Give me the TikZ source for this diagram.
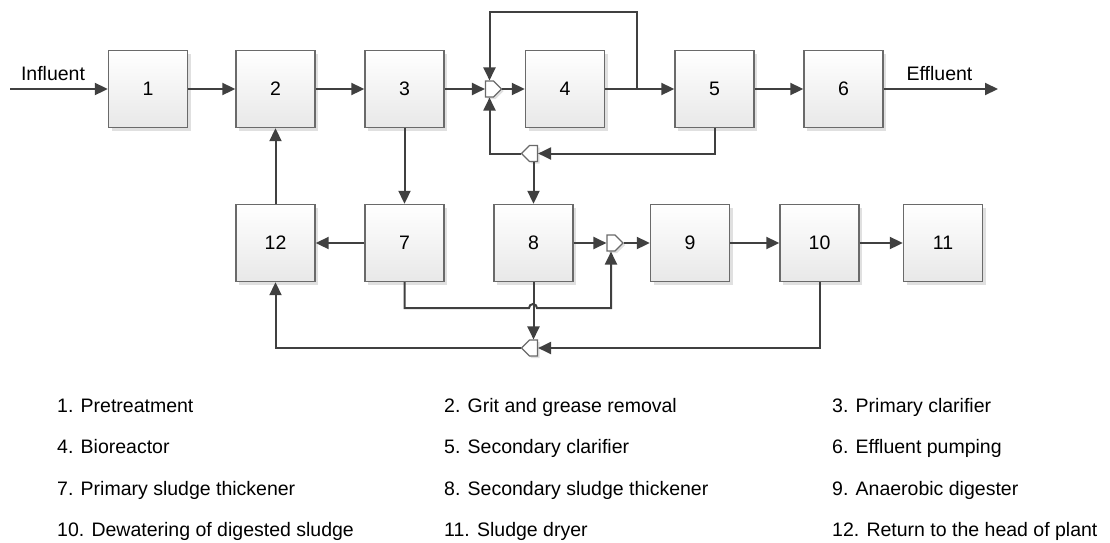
\documentclass[tikz,border=0pt]{standalone}
\usepackage{fontspec}
\setmainfont{Liberation Sans}
\usetikzlibrary{arrows.meta,shapes.symbols,shadows,calc}
\definecolor{linec}{HTML}{404040}
\definecolor{boxborder}{HTML}{6A6A6A}
\begin{document}
\begin{tikzpicture}[x=1pt,y=-1pt,
  box/.style={draw=boxborder, line width=1.4pt, minimum width=79pt, minimum height=77pt,
    inner sep=0pt, top color=white, bottom color=black!9,
    drop shadow={shadow xshift=3pt, shadow yshift=-3pt, fill=black!12, opacity=1},
    font=\fontsize{19.5}{23}\selectfont},
  joint/.style={shape=signal, draw=boxborder, line width=1.1pt, fill=white,
    minimum width=16pt, minimum height=16pt, inner sep=0pt, signal pointer angle=90,
    drop shadow={shadow xshift=2pt, shadow yshift=-2pt, fill=black!12, opacity=1}},
  flow/.style={draw=linec, line width=2pt, -{Triangle[length=13pt,width=12pt]}},
  pipe/.style={draw=linec, line width=2pt},
  txt/.style={font=\fontsize{19.5}{23}\selectfont, inner sep=0pt},
  lbl/.style={txt, anchor=base west}
]
\useasboundingbox (0,0) rectangle (1110,542);

% boxes, top row
\node[box] (b1) at (148,89) {1};
\node[box] (b2) at (275.5,89) {2};
\node[box] (b3) at (404.5,89) {3};
\node[box] (b4) at (565,89) {4};
\node[box] (b5) at (714.5,89) {5};
\node[box] (b6) at (843.5,89) {6};
% boxes, bottom row
\node[box] (b12) at (275.5,243) {12};
\node[box] (b7) at (404.5,243) {7};
\node[box] (b8) at (533.5,243) {8};
\node[box] (b9) at (690,243) {9};
\node[box] (b10) at (819.5,243) {10};
\node[box] (b11) at (943,243) {11};

% junctions
\node[joint, signal to=east] (m1) at (489.5,89) {};
\node[joint, signal to=west] (s1) at (533.5,153.5) {};
\node[joint, signal to=east] (m2) at (611,243) {};
\node[joint, signal to=west] (s2) at (533.5,348) {};

% free ends
\coordinate (in) at (10,89);
\coordinate (out) at (998,89);
\coordinate (br) at (637,89);
\coordinate (fbtop) at (637,12);
\coordinate (hop) at (529,308);

\node[txt, anchor=base] (tin) at (53,80) {Influent};
\node[txt, anchor=base] (tout) at (939.5,80) {Effluent};

% main line
\draw[flow] (in) -- (b1.west);
\draw[flow] (b1.east) -- (b2.west);
\draw[flow] (b2.east) -- (b3.west);
\draw[flow] (b3.east) -- (m1.west);
\draw[flow] (m1.east) -- (b4.west);
\draw[pipe] (b4.east) -- (br);
\draw[flow] (br) -- (b5.west);
\draw[flow] (b5.east) -- (b6.west);
\draw[flow] (b6.east) -- (out);
% recycle around 4
\draw[flow] (br) -- (fbtop) -| (m1.north);
% secondary clarifier underflow
\draw[flow] (b5.south) |- (s1.east);
\draw[flow] (s1.west) -| (m1.south);
\draw[flow] (s1.south) -- (b8.north);
% sludge line
\draw[flow] (b3.south) -- (b7.north);
\draw[flow] (b7.west) -- (b12.east);
\draw[flow] (b12.north) -- (b2.south);
\draw[flow] (b8.east) -- (m2.west);
\draw[flow] (m2.east) -- (b9.west);
\draw[flow] (b9.east) -- (b10.west);
\draw[flow] (b10.east) -- (b11.west);
\draw[flow] (b7.south) |- (hop) arc[start angle=180, end angle=360, radius=4] -| (m2.south);
\draw[flow] (b8.south) -- (s2.north);
\draw[flow] (b10.south) |- (s2.east);
\draw[flow] (s2.west) -| (b12.south);

% legend
\node[lbl] (l1) at (57,412) {1. Pretreatment};
\node[lbl] (l4) at (57,453.5) {4. Bioreactor};
\node[lbl] (l7) at (57,495) {7. Primary sludge thickener};
\node[lbl] (l10) at (57,536) {10. Dewatering of digested sludge};
\node[lbl] (l2) at (444,412) {2. Grit and grease removal};
\node[lbl] (l5) at (444,453.5) {5. Secondary clarifier};
\node[lbl] (l8) at (444,495) {8. Secondary sludge thickener};
\node[lbl] (l11) at (444,536) {11. Sludge dryer};
\node[lbl] (l3) at (832,412) {3. Primary clarifier};
\node[lbl] (l6) at (832,453.5) {6. Effluent pumping};
\node[lbl] (l9) at (832,495) {9. Anaerobic digester};
\node[lbl] (l12) at (832,536) {12. Return to the head of plant};
\end{tikzpicture}
\end{document}
